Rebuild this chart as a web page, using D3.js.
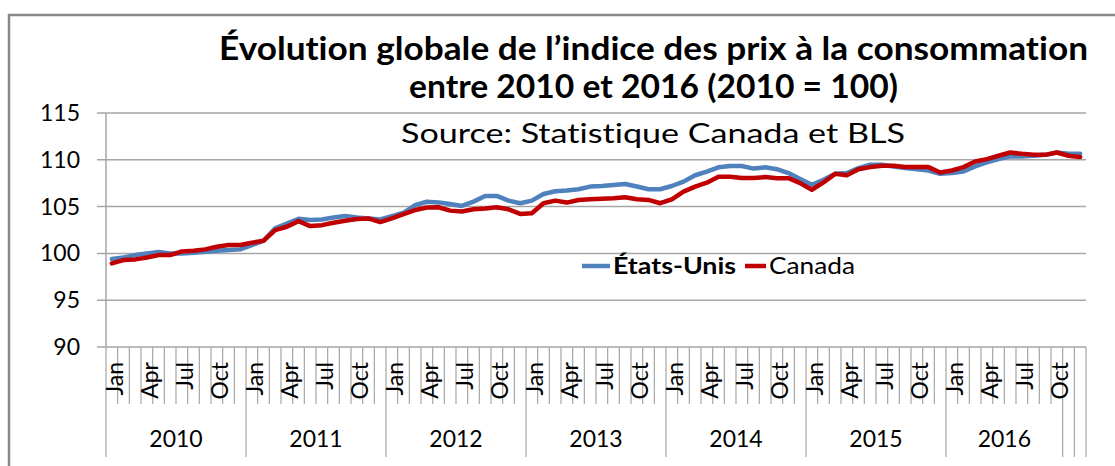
<!DOCTYPE html>
<html>
<head>
<meta charset="utf-8">
<script src="https://cdn.jsdelivr.net/npm/d3@7"></script>
<style>
  body { margin: 0; background: #fff; }
  text { font-family: Lato, "Open Sans", sans-serif; fill: #000; font-variant-ligatures: none; }
</style>
</head>
<body>
<div id="chart"></div>
<script>
// categories
var nomsMois = ["Jan","Feb","Mar","Apr","May","Jun","Jul","Aug","Sep","Oct","Nov","Dec"];
var annees = [2010, 2011, 2012, 2013, 2014, 2015, 2016];
// year groups on the axis (label, number of months) - 2016 label covers only Jan-Oct
var groupesAnnees = [["2010",12],["2011",12],["2012",12],["2013",12],["2014",12],["2015",12],["2016",10],["",1],["",1]];
var moisAffiches = ["Jan","Apr","Jul","Oct"];
var yTicks = [90, 95, 100, 105, 110, 115];

// series (monthly, Jan 2010 -> Dec 2016)
var etatsUnis = [
  99.4, 99.57, 99.82, 100.0, 100.14, 100.0, 100.0, 100.07, 100.18, 100.28, 100.36, 100.43,
  100.89, 101.35, 102.67, 103.2, 103.7, 103.56, 103.63, 103.84, 103.99, 103.84, 103.74, 103.63,
  103.99, 104.34, 105.16, 105.52, 105.45, 105.28, 105.07, 105.53, 106.14, 106.14, 105.64, 105.36,
  105.64, 106.35, 106.64, 106.71, 106.85, 107.14, 107.2, 107.31, 107.42, 107.14, 106.85, 106.85,
  107.2, 107.67, 108.35, 108.74, 109.2, 109.34, 109.34, 109.06, 109.2, 109.0, 108.58, 107.94,
  107.33, 107.86, 108.5, 108.58, 109.11, 109.47, 109.47, 109.29, 109.11, 109.0, 108.86, 108.5,
  108.58, 108.75, 109.29, 109.72, 110.07, 110.36, 110.36, 110.43, 110.53, 110.78, 110.64, 110.64
];
var canada = [
  98.93, 99.29, 99.36, 99.57, 99.82, 99.82, 100.21, 100.28, 100.43, 100.71, 100.89, 100.89,
  101.14, 101.35, 102.49, 102.85, 103.45, 102.92, 103.02, 103.27, 103.49, 103.67, 103.74, 103.35,
  103.74, 104.2, 104.63, 104.91, 104.93, 104.57, 104.47, 104.72, 104.79, 104.93, 104.72, 104.22,
  104.29, 105.36, 105.64, 105.43, 105.71, 105.78, 105.85, 105.89, 106.0, 105.78, 105.71, 105.36,
  105.78, 106.6, 107.14, 107.56, 108.2, 108.2, 108.06, 108.06, 108.15, 108.04, 108.04, 107.51,
  106.8, 107.58, 108.5, 108.36, 109.0, 109.22, 109.36, 109.36, 109.22, 109.22, 109.22, 108.65,
  108.86, 109.22, 109.82, 110.07, 110.43, 110.78, 110.64, 110.53, 110.53, 110.78, 110.43, 110.29
];

var width = 1115;
var height = 466;
var margin = { top: 113, right: 29, bottom: 119, left: 106 };
var gris = "#a6a6a6";

// one key per month
var mois = [];
annees.forEach(function (a) {
  nomsMois.forEach(function (m) { mois.push(m + "-" + a); });
});

var svg = d3.select("#chart")
  .append("svg")
  .attr("width", width)
  .attr("height", height);

// chart frame (goes past the right and bottom edges)
svg.append("rect")
  .attr("x", 9).attr("y", 15)
  .attr("width", 1200).attr("height", 500)
  .attr("fill", "none")
  .attr("stroke", "#888")
  .attr("stroke-width", 2.5);

var x = d3.scaleBand()
  .domain(mois)
  .range([margin.left, width - margin.right])
  .padding(0);

var y = d3.scaleLinear()
  .domain([90, 115])
  .range([height - margin.bottom, margin.top]);

var x0 = margin.left, x1 = width - margin.right, yAxe = y(90);

// gridlines + y ticks
svg.append("g")
  .selectAll("line")
  .data(yTicks)
  .join("line")
  .attr("x1", x0 - 9).attr("x2", x1)
  .attr("y1", d => y(d)).attr("y2", d => y(d))
  .attr("stroke", gris)
  .attr("stroke-width", 1.5);

// y axis line
svg.append("line")
  .attr("x1", x0).attr("x2", x0)
  .attr("y1", y(115)).attr("y2", yAxe)
  .attr("stroke", gris).attr("stroke-width", 1.5);

svg.append("g")
  .selectAll("text")
  .data(yTicks)
  .join("text")
  .attr("x", 80)
  .attr("y", d => y(d) + 8)
  .attr("text-anchor", "end")
  .style("font-size", "23px")
  .text(d => d);

// month tick marks (category boundaries)
var bornes = d3.range(mois.length + 1);
var bornesAnnees = [0];
groupesAnnees.forEach(function (g) { bornesAnnees.push(bornesAnnees[bornesAnnees.length - 1] + g[1]); });

function bx(k) { return x0 + k * x.step(); }

svg.append("g")
  .selectAll("line")
  .data(bornes)
  .join("line")
  .attr("x1", bx).attr("x2", bx)
  .attr("y1", yAxe)
  .attr("y2", k => bornesAnnees.includes(k) ? 457 : 404)
  .attr("stroke", gris)
  .attr("stroke-width", 1.2);

// month labels, rotated
svg.append("g")
  .selectAll("text")
  .data(mois.filter(m => moisAffiches.includes(m.split("-")[0])))
  .join("text")
  .attr("transform", m => "translate(" + (x(m) + x.bandwidth() / 2 + 11) + "," + 362 + ") rotate(-90)")
  .attr("text-anchor", "end")
  .style("font-size", "23px")
  .text(m => m.split("-")[0]);

// year labels
svg.append("g")
  .selectAll("text")
  .data(groupesAnnees.map((g, i) => [g[0], bornesAnnees[i], bornesAnnees[i + 1]]))
  .join("text")
  .attr("x", d => (bx(d[1]) + bx(d[2])) / 2)
  .attr("y", 447)
  .attr("text-anchor", "middle")
  .style("font-size", "23px")
  .text(d => d[0]);

// lines
var ligne = d3.line()
  .x((d, i) => x(mois[i]) + x.bandwidth() / 2)
  .y(d => y(d));

svg.append("path")
  .datum(etatsUnis)
  .attr("fill", "none")
  .attr("stroke", "#4f81bd")
  .attr("stroke-width", 4.5)
  .attr("stroke-linejoin", "round")
  .attr("stroke-linecap", "round")
  .attr("d", ligne);

svg.append("path")
  .datum(canada)
  .attr("fill", "none")
  .attr("stroke", "#c00000")
  .attr("stroke-width", 4.5)
  .attr("stroke-linejoin", "round")
  .attr("stroke-linecap", "round")
  .attr("d", ligne);

// titles
svg.append("text")
  .attr("x", 219).attr("y", 60)
  .attr("textLength", 869).attr("lengthAdjust", "spacingAndGlyphs")
  .style("font-size", "32px").style("font-weight", "bold")
  .text("Évolution globale de l’indice des prix à la consommation");

svg.append("text")
  .attr("x", 409).attr("y", 98)
  .attr("textLength", 489).attr("lengthAdjust", "spacingAndGlyphs")
  .style("font-size", "32px").style("font-weight", "bold")
  .text("entre 2010 et 2016 (2010 = 100)");

svg.append("text")
  .attr("x", 401).attr("y", 143)
  .attr("textLength", 504).attr("lengthAdjust", "spacingAndGlyphs")
  .style("font-size", "26px")
  .text("Source: Statistique Canada et BLS");

// legend
svg.append("line")
  .attr("x1", 582).attr("x2", 610).attr("y1", 266).attr("y2", 266)
  .attr("stroke", "#4f81bd").attr("stroke-width", 4.5);
svg.append("text")
  .attr("x", 613).attr("y", 274)
  .attr("textLength", 123).attr("lengthAdjust", "spacingAndGlyphs")
  .style("font-size", "23px").style("font-weight", "bold")
  .text("États-Unis");
svg.append("line")
  .attr("x1", 745).attr("x2", 766).attr("y1", 266).attr("y2", 266)
  .attr("stroke", "#c00000").attr("stroke-width", 4.5);
svg.append("text")
  .attr("x", 769).attr("y", 274)
  .attr("textLength", 86).attr("lengthAdjust", "spacingAndGlyphs")
  .style("font-size", "23px")
  .text("Canada");
</script>
</body>
</html>
